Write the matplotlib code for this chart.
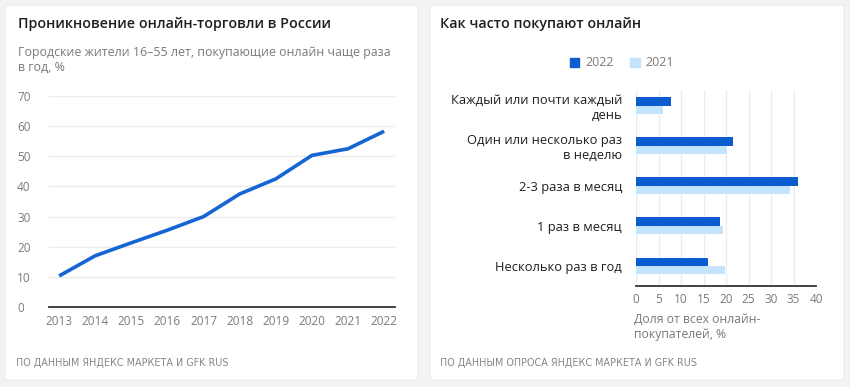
import numpy as np
from matplotlib import pyplot as plt
from matplotlib.patches import FancyBboxPatch, Patch

plt.rcParams['font.family'] = ['Open Sans', 'DejaVu Sans']

# Left chart data
years = [2013, 2014, 2015, 2016, 2017, 2018, 2019, 2020, 2021, 2022]
share = [10.3, 17.0, 21.3, 25.5, 30.0, 37.5, 42.5, 50.3, 52.5, 58.3]

# Right chart data
freq_labels = ['Каждый или почти каждый\nдень', 'Один или несколько раз\nв неделю',
               '2-3 раза в месяц', '1 раз в месяц', 'Несколько раз в год']
freq_2022 = [7.7, 21.6, 36.1, 18.6, 15.9]
freq_2021 = [6.1, 20.2, 34.2, 19.3, 19.8]

W, H = 850, 387
fig = plt.figure(figsize=(W / 100, H / 100), dpi=100)
fig.patch.set_facecolor('#f3f3f3')


def box(x0, y0, x1, y1):
    # pixel box (top-left origin) -> figure fraction rect
    return [x0 / W, 1 - y1 / H, (x1 - x0) / W, (y1 - y0) / H]


# white cards
for cx0, cx1 in [(5, 418), (430, 844)]:
    r = box(cx0, 5, cx1, 380)
    fig.patches.append(FancyBboxPatch((r[0], r[1]), r[2], r[3],
                                      boxstyle='round,pad=0,rounding_size=0.006',
                                      transform=fig.transFigure, facecolor='white',
                                      edgecolor='#ececec', lw=0.8, zorder=-5))

gray = '#7a7a7a'
dark = '#1f1f1f'

# ---- left chart ----
fig.text(18 / W, 1 - 24 / H, 'Проникновение онлайн-торговли в России', fontsize=10.3,
         fontweight='semibold', color=dark, va='center')
fig.text(18 / W, 1 - 60 / H, 'Городские жители 16–55 лет, покупающие онлайн чаще раза\nв год, %',
         fontsize=8.9, color=gray, va='center', linespacing=1.25)

ax = fig.add_axes(box(49, 96, 395, 307))
ax.patch.set_alpha(0)
ax.plot(years, share, color='#1565d4', lw=2.6, solid_capstyle='butt')
ax.set_xlim(2012.72, 2022.3)
ax.set_ylim(0, 70)
ax.set_yticks(range(0, 71, 10))
ax.set_xticks(years)
ax.grid(axis='y', color='#ececec', lw=1)
ax.set_axisbelow(True)
for s in ['top', 'right', 'left']:
    ax.spines[s].set_visible(False)
ax.spines['bottom'].set_color('#333333')
ax.spines['bottom'].set_linewidth(1.3)
ax.tick_params(axis='y', length=0, pad=23, labelcolor=gray, labelsize=8.5)
for lab in ax.get_yticklabels():
    lab.set_horizontalalignment('left')
ax.tick_params(axis='x', length=0, pad=6, labelcolor=gray, labelsize=8.5)

fig.text(16 / W, 1 - 363 / H, 'ПО ДАННЫМ ЯНДЕКС МАРКЕТА И GFK RUS', fontsize=6.9,
         color='#858585', va='center', family='DejaVu Sans')

# ---- right chart ----
fig.text(440 / W, 1 - 24 / H, 'Как часто покупают онлайн', fontsize=10.3,
         fontweight='semibold', color=dark, va='center')

ax2 = fig.add_axes(box(636, 90, 816, 286))
ax2.patch.set_alpha(0)
ypos = np.arange(len(freq_labels))
bh = 0.21
ax2.barh(ypos - bh / 2, freq_2022, height=bh, color='#0b5ccf', label='2022')
ax2.barh(ypos + bh / 2, freq_2021, height=bh, color='#c4e3fc', label='2021')
ax2.set_xlim(0, 40)
ax2.set_ylim(4.5, -0.39)
ax2.set_xticks(range(0, 41, 5))
ax2.set_yticks(ypos)
ax2.set_yticklabels(freq_labels, fontsize=9.3, color=dark, linespacing=1.2)
ax2.grid(axis='x', color='#ececec', lw=1)
ax2.set_axisbelow(True)
for s in ['top', 'right', 'left']:
    ax2.spines[s].set_visible(False)
ax2.spines['bottom'].set_color('#333333')
ax2.spines['bottom'].set_linewidth(1.3)
ax2.tick_params(axis='y', length=0, pad=10)
ax2.tick_params(axis='x', length=0, pad=5, labelcolor=gray, labelsize=8.5)
ax2.set_xlabel('Доля от всех онлайн-\nпокупателей, %', fontsize=8.8, color=gray,
               ha='left', x=-0.01, labelpad=5, linespacing=1.2)

handles = [Patch(color='#0b5ccf', label='2022'), Patch(color='#c4e3fc', label='2021')]
fig.legend(handles=handles, loc='center', bbox_to_anchor=(622 / W, 1 - 63 / H), ncol=2,
           frameon=False, fontsize=9, labelcolor=gray, handlelength=0.75,
           handleheight=0.75, handletextpad=0.5, columnspacing=1.3)

fig.text(440 / W, 1 - 363 / H, 'ПО ДАННЫМ ОПРОСА ЯНДЕКС МАРКЕТА И GFK RUS', fontsize=6.9,
         color='#858585', va='center', family='DejaVu Sans')

fig.savefig('out.png', dpi=100, facecolor=fig.get_facecolor())
